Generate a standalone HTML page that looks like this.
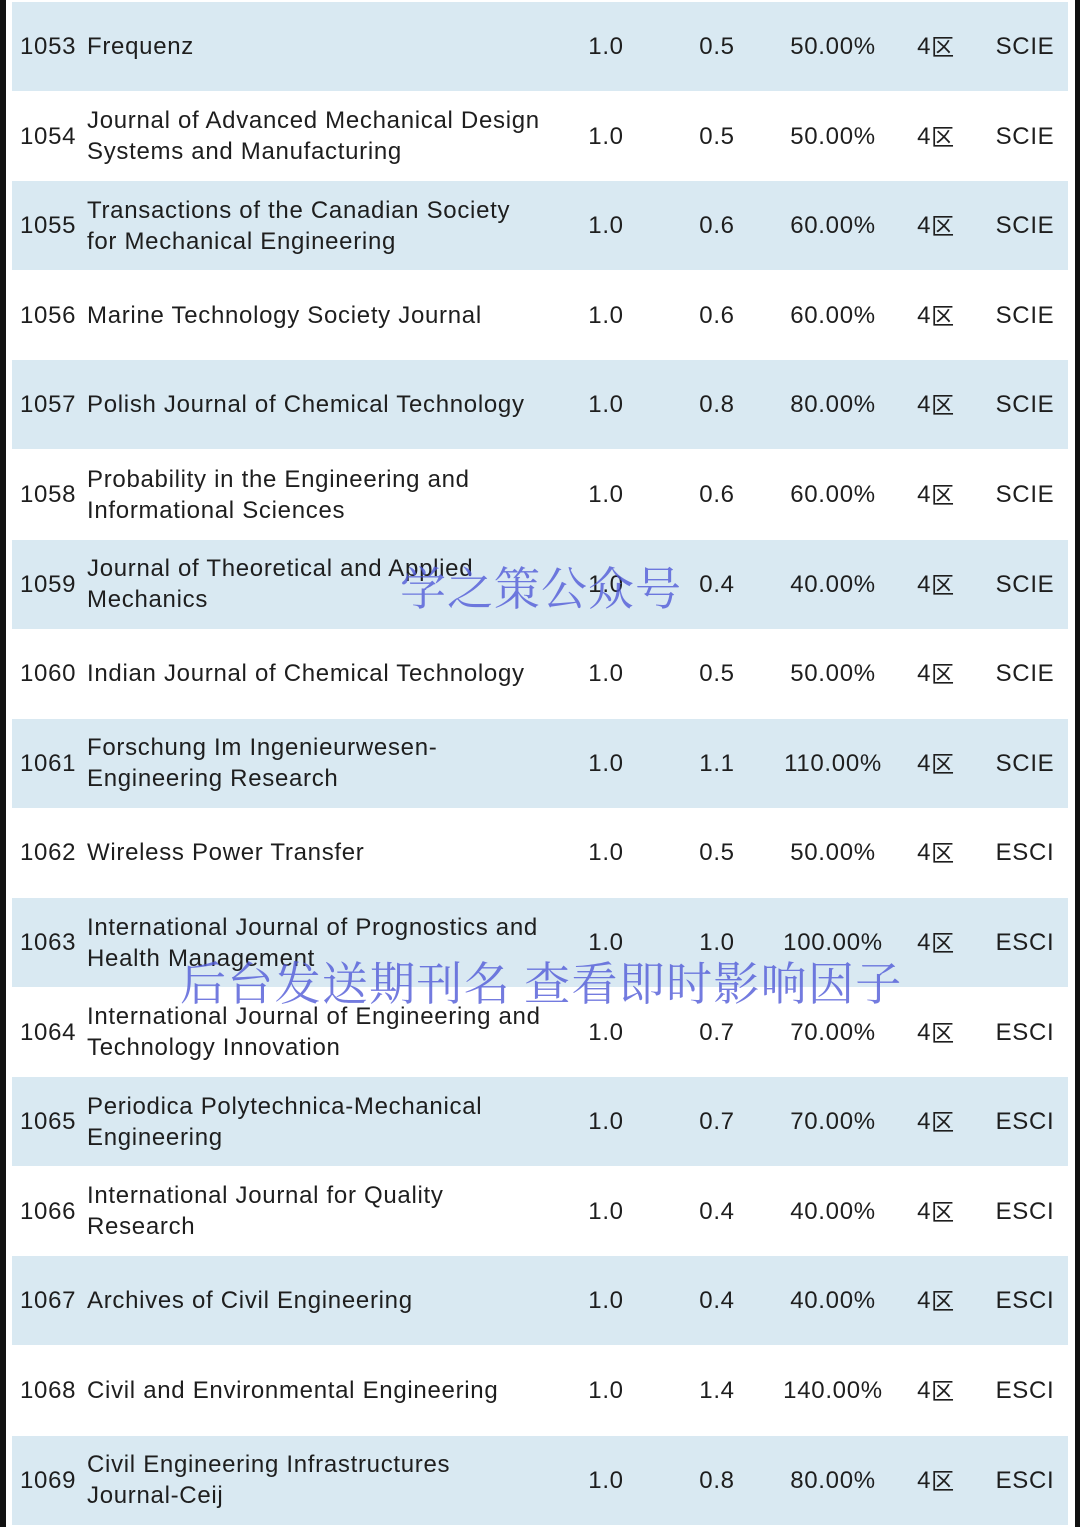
<!DOCTYPE html>
<html><head><meta charset="utf-8"><style>
html,body{margin:0;padding:0;}
body{width:1080px;height:1527px;position:relative;background:#fff;overflow:hidden;font-family:"Liberation Sans","Noto Sans CJK SC",sans-serif;color:#1e1e1e;}
.lb{position:absolute;left:0;top:0;width:6px;height:1527px;background:#111;}
.rb{position:absolute;right:0;top:0;width:5px;height:1527px;background:#111;}
.row{position:absolute;left:12px;width:1056px;height:89px;}
.b{background:#d9e9f2;}
.c{position:absolute;top:0;height:89px;display:flex;align-items:center;font-size:24px;line-height:31px;letter-spacing:0.7px;}
.n{left:8px;}
.t{left:75px;width:490px;}
.v1{left:554px;width:80px;justify-content:center;}
.v2{left:665px;width:80px;justify-content:center;}
.v3{left:761px;width:120px;justify-content:center;}
.v4{left:884px;width:80px;justify-content:center;}
.v4 span{font-family:"Noto Sans CJK SC",sans-serif;font-size:23px;position:relative;top:-1px;}
.v5{left:973px;width:80px;justify-content:center;}
.wm{position:absolute;font-family:"Noto Serif CJK SC",serif;font-size:46px;color:rgba(80,90,215,0.8);white-space:nowrap;line-height:1;}
</style></head><body>
<div class="lb"></div><div class="rb"></div>

<div class="row b" style="top:2px"><div class="c n">1053</div><div class="c t">Frequenz</div><div class="c v1">1.0</div><div class="c v2">0.5</div><div class="c v3">50.00%</div><div class="c v4">4<span>区</span></div><div class="c v5">SCIE</div></div>
<div class="row" style="top:91.6px"><div class="c n">1054</div><div class="c t">Journal of Advanced Mechanical Design<br>Systems and Manufacturing</div><div class="c v1">1.0</div><div class="c v2">0.5</div><div class="c v3">50.00%</div><div class="c v4">4<span>区</span></div><div class="c v5">SCIE</div></div>
<div class="row b" style="top:181.2px"><div class="c n">1055</div><div class="c t">Transactions of the Canadian Society<br>for Mechanical Engineering</div><div class="c v1">1.0</div><div class="c v2">0.6</div><div class="c v3">60.00%</div><div class="c v4">4<span>区</span></div><div class="c v5">SCIE</div></div>
<div class="row" style="top:270.8px"><div class="c n">1056</div><div class="c t">Marine Technology Society Journal</div><div class="c v1">1.0</div><div class="c v2">0.6</div><div class="c v3">60.00%</div><div class="c v4">4<span>区</span></div><div class="c v5">SCIE</div></div>
<div class="row b" style="top:360.4px"><div class="c n">1057</div><div class="c t">Polish Journal of Chemical Technology</div><div class="c v1">1.0</div><div class="c v2">0.8</div><div class="c v3">80.00%</div><div class="c v4">4<span>区</span></div><div class="c v5">SCIE</div></div>
<div class="row" style="top:450px"><div class="c n">1058</div><div class="c t">Probability in the Engineering and<br>Informational Sciences</div><div class="c v1">1.0</div><div class="c v2">0.6</div><div class="c v3">60.00%</div><div class="c v4">4<span>区</span></div><div class="c v5">SCIE</div></div>
<div class="row b" style="top:539.6px"><div class="c n">1059</div><div class="c t">Journal of Theoretical and Applied<br>Mechanics</div><div class="c v1">1.0</div><div class="c v2">0.4</div><div class="c v3">40.00%</div><div class="c v4">4<span>区</span></div><div class="c v5">SCIE</div></div>
<div class="row" style="top:629.2px"><div class="c n">1060</div><div class="c t">Indian Journal of Chemical Technology</div><div class="c v1">1.0</div><div class="c v2">0.5</div><div class="c v3">50.00%</div><div class="c v4">4<span>区</span></div><div class="c v5">SCIE</div></div>
<div class="row b" style="top:718.8px"><div class="c n">1061</div><div class="c t">Forschung Im Ingenieurwesen-<br>Engineering Research</div><div class="c v1">1.0</div><div class="c v2">1.1</div><div class="c v3">110.00%</div><div class="c v4">4<span>区</span></div><div class="c v5">SCIE</div></div>
<div class="row" style="top:808.4px"><div class="c n">1062</div><div class="c t">Wireless Power Transfer</div><div class="c v1">1.0</div><div class="c v2">0.5</div><div class="c v3">50.00%</div><div class="c v4">4<span>区</span></div><div class="c v5">ESCI</div></div>
<div class="row b" style="top:898px"><div class="c n">1063</div><div class="c t">International Journal of Prognostics and<br>Health Management</div><div class="c v1">1.0</div><div class="c v2">1.0</div><div class="c v3">100.00%</div><div class="c v4">4<span>区</span></div><div class="c v5">ESCI</div></div>
<div class="row" style="top:987.6px"><div class="c n">1064</div><div class="c t">International Journal of Engineering and<br>Technology Innovation</div><div class="c v1">1.0</div><div class="c v2">0.7</div><div class="c v3">70.00%</div><div class="c v4">4<span>区</span></div><div class="c v5">ESCI</div></div>
<div class="row b" style="top:1077.2px"><div class="c n">1065</div><div class="c t">Periodica Polytechnica-Mechanical<br>Engineering</div><div class="c v1">1.0</div><div class="c v2">0.7</div><div class="c v3">70.00%</div><div class="c v4">4<span>区</span></div><div class="c v5">ESCI</div></div>
<div class="row" style="top:1166.8px"><div class="c n">1066</div><div class="c t">International Journal for Quality<br>Research</div><div class="c v1">1.0</div><div class="c v2">0.4</div><div class="c v3">40.00%</div><div class="c v4">4<span>区</span></div><div class="c v5">ESCI</div></div>
<div class="row b" style="top:1256.4px"><div class="c n">1067</div><div class="c t">Archives of Civil Engineering</div><div class="c v1">1.0</div><div class="c v2">0.4</div><div class="c v3">40.00%</div><div class="c v4">4<span>区</span></div><div class="c v5">ESCI</div></div>
<div class="row" style="top:1346px"><div class="c n">1068</div><div class="c t">Civil and Environmental Engineering</div><div class="c v1">1.0</div><div class="c v2">1.4</div><div class="c v3">140.00%</div><div class="c v4">4<span>区</span></div><div class="c v5">ESCI</div></div>
<div class="row b" style="top:1435.6px"><div class="c n">1069</div><div class="c t">Civil Engineering Infrastructures<br>Journal-Ceij</div><div class="c v1">1.0</div><div class="c v2">0.8</div><div class="c v3">80.00%</div><div class="c v4">4<span>区</span></div><div class="c v5">ESCI</div></div>

<div class="wm" style="left:400px;top:563px;letter-spacing:1px;">学之策公众号</div>
<div class="wm" style="left:180px;top:958px;letter-spacing:1.3px;">后台发送期刊名 查看即时影响因子</div>
</body></html>
